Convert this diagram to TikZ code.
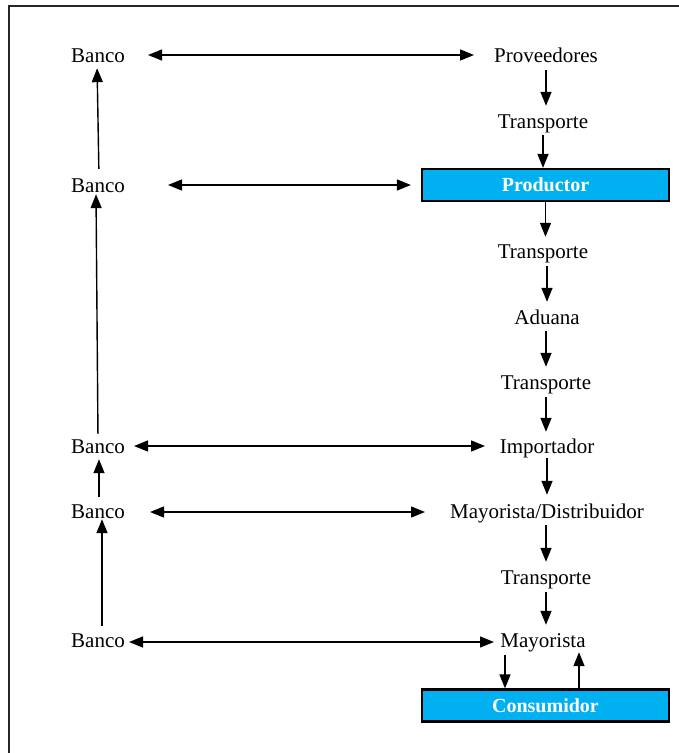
\documentclass[tikz,border=0pt]{standalone}
\usepackage{fontspec}
\setmainfont{Liberation Serif}
\usetikzlibrary{arrows.meta}
\definecolor{boxcyan}{HTML}{00B0F0}
\begin{document}
\begin{tikzpicture}[x=1pt,y=-1pt,
  lbl/.style={inner sep=0pt, text height=14pt, text depth=0pt, font=\fontsize{21}{24}\selectfont},
  bluebox/.style={draw=black, line width=2.2pt, fill=boxcyan, minimum width=247pt, minimum height=32pt, inner sep=0pt, text=white, font=\fontsize{20}{24}\selectfont\bfseries},
  arr/.style={line width=1.4pt, -{Triangle[length=14pt,width=11pt]}},
  darr/.style={line width=1.4pt, {Triangle[length=14pt,width=11pt]}-{Triangle[length=14pt,width=11pt]}},
  frameline/.style={line width=1.8pt, draw=black!85}
]
\useasboundingbox (0,0) rectangle (678,753);
\draw[frameline] (9,6) rectangle (700,780);

% nodes
\node[lbl] (b1) at (98,55) {Banco};
\node[lbl] (prov) at (546,55) {Proveedores};
\node[lbl] (t1) at (543,121) {Transporte};
\node[lbl] (b2) at (98,185) {Banco};
\node[bluebox] (prod) at (545.5,185) {Productor};
\node[lbl] (t2) at (543,251) {Transporte};
\node[lbl] (adu) at (547,317) {Aduana};
\node[lbl] (t3) at (546,382) {Transporte};
\node[lbl] (b3) at (98,446) {Banco};
\node[lbl] (imp) at (547,446) {Importador};
\node[lbl] (b4) at (98,511) {Banco};
\node[lbl] (md) at (547,511) {Mayorista/Distribuidor};
\node[lbl] (t4) at (546,577) {Transporte};
\node[lbl] (b5) at (98,640) {Banco};
\node[lbl] (may) at (543,640) {Mayorista};
\node[bluebox] (cons) at (545.5,705.5) {Consumidor};

% right column flow
\draw[arr, shorten <=8pt, shorten >=8pt] (prov.south) -- (prov.south |- t1.north);
\draw[arr, shorten <=7pt, shorten >=0pt] (t1.south) -- (t1.south |- prod.north);
\draw[arr, shorten <=0pt, shorten >=7pt] (prod.south) -- (prod.south |- t2.north);
\draw[arr, shorten <=8pt, shorten >=8pt] (adu.north |- t2.south) -- (adu.north);
\draw[arr, shorten <=7pt, shorten >=8pt] (t3.north |- adu.south) -- (t3.north);
\draw[arr, shorten <=8pt, shorten >=7pt] (t3.south) -- (t3.south |- imp.north);
\draw[arr, shorten <=5pt, shorten >=9pt] (imp.south) -- (imp.south |- md.north);
\draw[arr, shorten <=7pt, shorten >=8pt] (t4.north |- md.south) -- (t4.north);
\draw[arr, shorten <=8pt, shorten >=8pt] (t4.south) -- (t4.south |- may.north);
\draw[arr, shorten <=8pt] ([xshift=-38pt]may.south) -- ([xshift=-40.5pt]cons.north);
\draw[arr, shorten >=5pt] ([xshift=33.5pt]cons.north) -- ([xshift=36pt]may.south);

% horizontal links
\draw[darr] ([xshift=50pt]b1.center) -- ([xshift=-72pt]prov.center);
\draw[darr] ([xshift=70pt]b2.center) -- ([xshift=-10pt]prod.west);
\draw[darr] ([xshift=36pt]b3.center) -- ([xshift=-62pt]imp.center);
\draw[darr] ([xshift=52pt,yshift=-1pt]b4.center) -- ([xshift=-122pt,yshift=-1pt]md.center);
\draw[darr] ([xshift=31pt,yshift=-2pt]b5.center) -- ([xshift=-49pt,yshift=-2pt]may.center);

% bank chain
\draw[arr, shorten <=9pt, shorten >=6pt] ([xshift=1pt]b2.north) -- ([xshift=-1pt]b1.south);
\draw[arr, shorten <=5pt, shorten >=2pt] (b3.north) -- ([xshift=-2pt]b2.south);
\draw[arr, shorten <=7pt, shorten >=6pt] ([xshift=1pt]b4.north) -- ([xshift=1pt]b3.south);
\draw[arr, shorten <=7pt, shorten >=1pt] ([xshift=4pt]b5.north) -- ([xshift=4pt]b4.south);
\end{tikzpicture}
\end{document}
